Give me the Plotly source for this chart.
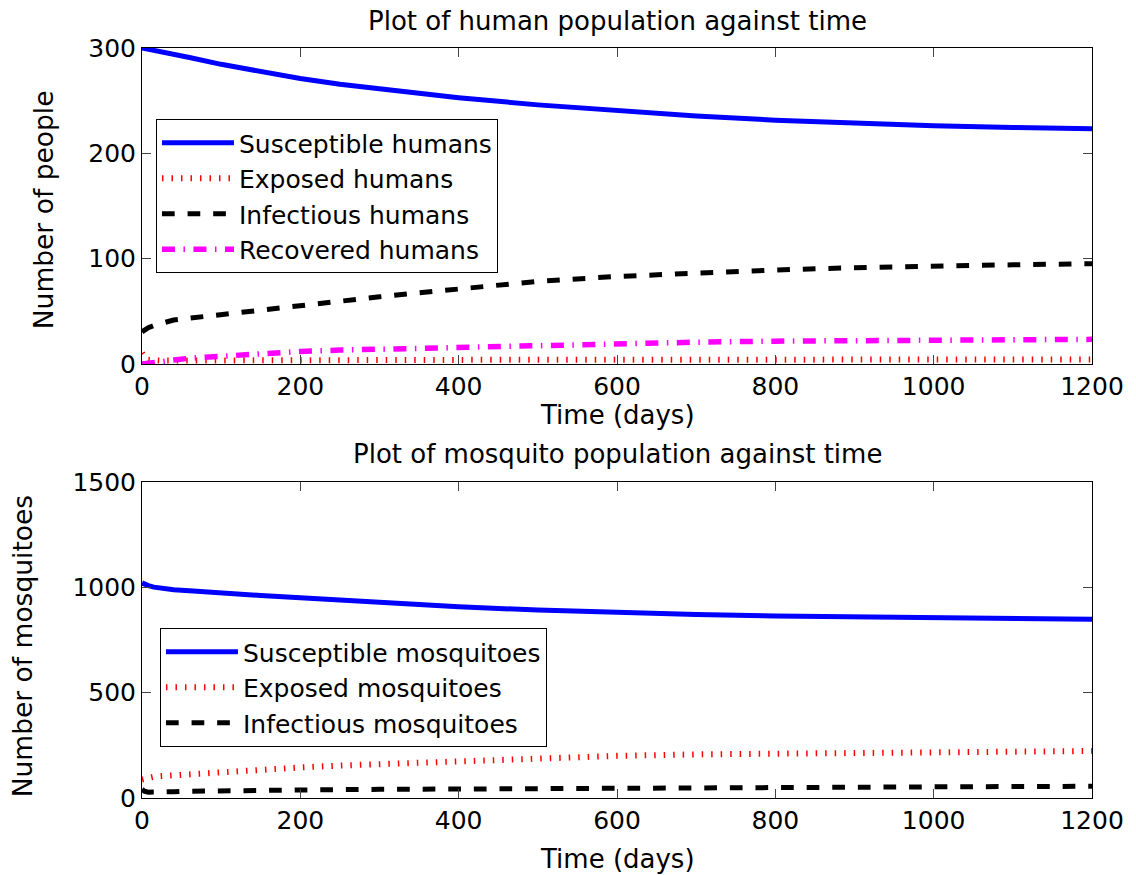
import plotly.graph_objects as go

# ---------------- data ----------------
t = [0, 3, 8, 15, 25, 40, 60, 100, 150, 200, 250, 300, 350, 400, 500, 600, 700, 800, 900, 1000, 1100, 1200]

S_h = [300, 299.5, 298.8, 297.7, 296.2, 294, 291, 284.5, 277.5, 271, 265.5, 261, 256.5, 252.8,
       246, 240.5, 235.5, 231.5, 228.5, 226.2, 224.5, 223.4]
E_h = [10.5, 6.5, 4.0, 3.3, 3.2, 3.3, 3.4, 3.5, 3.6, 3.7, 3.8, 3.8, 3.9, 3.9,
       4.0, 4.1, 4.1, 4.2, 4.2, 4.3, 4.3, 4.3]
I_h = [30.5, 32.5, 34.5, 36.5, 39, 41.8, 43.5, 47, 51.5, 56, 60, 63.8, 67.5, 71.3,
       78.5, 83.1, 86.4, 89.3, 91.4, 93.1, 94.2, 95.2]
R_h = [0, 0.2, 0.6, 1.2, 2.2, 3.7, 5.5, 7.4, 9.9, 11.9, 13.2, 14.1, 15.0, 16.1,
       18.2, 19.5, 20.7, 21.7, 22.2, 22.7, 23.1, 23.4]

S_m = [1021, 1015, 1008, 1001, 995, 989, 984, 972, 961, 950, 938, 927, 917, 908,
       892, 880, 871, 864, 859, 855, 852, 849]
E_m = [88, 92, 97, 101, 104, 108, 113, 122, 134, 145, 154, 161, 168, 176,
       189, 200, 207, 211, 216, 219, 221, 223]
I_m = [42, 32, 27.5, 27, 28, 30, 32, 34.5, 35.5, 37.5, 40, 41, 42, 43.5,
       46, 49.5, 50.5, 51.5, 52.5, 53.5, 54.5, 55.5]

x_ticks = [0, 200, 400, 600, 800, 1000, 1200]
y_ticks_h = [0, 100, 200, 300]
y_ticks_m = [0, 500, 1000, 1500]

human_names = ["Susceptible humans", "Exposed humans", "Infectious humans", "Recovered humans"]
mosq_names = ["Susceptible mosquitoes", "Exposed mosquitoes", "Infectious mosquitoes"]

# ---------------- layout geometry ----------------
W, H = 1136, 875
L, R, T, B = 142, 42, 48, 77
PW = W - L - R
PH = H - T - B


def px(xp):
    return (xp - L) / PW


def py(yp):
    return (H - B - yp) / PH


FONT = "DejaVu Sans, Liberation Sans, Arial, sans-serif"

blue = dict(color="#0000FF", width=5)
red = dict(color="#FF0000", width=6, dash="1.5px,8px")
black = dict(color="#000000", width=5, dash="12.7px,12.9px")
magenta = dict(color="#FF00FF", width=5.5, dash="13px,8.5px,1.5px,8.5px")

fig = go.Figure()
for name, y, ln in zip(human_names, [S_h, E_h, I_h, R_h], [blue, red, black, magenta]):
    fig.add_trace(go.Scatter(x=t, y=y, name=name, mode="lines", line=ln,
                             xaxis="x", yaxis="y", legend="legend"))
for name, y, ln in zip(mosq_names, [S_m, E_m, I_m], [blue, red, black]):
    fig.add_trace(go.Scatter(x=t, y=y, name=name, mode="lines", line=ln,
                             xaxis="x2", yaxis="y2", legend="legend2"))

axis_common = dict(showline=True, mirror="ticks", linecolor="#000000", linewidth=1,
                   ticks="inside", ticklen=9, tickwidth=1, tickcolor="#444444",
                   showgrid=False, zeroline=False,
                   tickfont=dict(family=FONT, size=25, color="#000000"))

legend_common = dict(xanchor="left", yanchor="top",
                     bgcolor="white", bordercolor="#000000", borderwidth=1,
                     font=dict(family=FONT, size=25, color="#000000"), itemwidth=72,
                     tracegroupgap=0)

fig.update_layout(
    width=W, height=H,
    margin=dict(l=L, r=R, t=T, b=B, pad=0),
    paper_bgcolor="white", plot_bgcolor="white",
    font=dict(family=FONT, size=25, color="#000000"),
    showlegend=True,
    xaxis=dict(domain=[0, 1], anchor="y", range=[0, 1200], tickvals=x_ticks, **axis_common),
    yaxis=dict(domain=[py(364), py(48)], anchor="x", range=[0, 300], tickvals=y_ticks_h, **axis_common),
    xaxis2=dict(domain=[0, 1], anchor="y2", range=[0, 1200], tickvals=x_ticks, **axis_common),
    yaxis2=dict(domain=[0, py(482)], anchor="x2", range=[0, 1500], tickvals=y_ticks_m, **axis_common),
    legend=dict(x=px(156), y=py(119), entrywidth=280, entrywidthmode="pixels", **legend_common),
    legend2=dict(x=px(160), y=py(628), entrywidth=330, entrywidthmode="pixels", **legend_common),
)

annos = [
    dict(text="Plot of human population against time", x=px(618), y=py(21), size=26, angle=0),
    dict(text="Plot of mosquito population against time", x=px(618), y=py(454), size=26, angle=0),
    dict(text="Time (days)", x=px(618), y=py(415), size=26, angle=0),
    dict(text="Time (days)", x=px(618), y=py(859), size=26, angle=0),
    dict(text="Number of people", x=px(44), y=py(210), size=26.5, angle=-90),
    dict(text="Number of mosquitoes", x=px(22), y=py(646), size=26.5, angle=-90),
]
for a in annos:
    fig.add_annotation(text=a["text"], x=a["x"], y=a["y"], xref="paper", yref="paper",
                       xanchor="center", yanchor="middle", showarrow=False,
                       textangle=a["angle"],
                       font=dict(family=FONT, size=a["size"], color="#000000"))

fig.write_html("out.html")
